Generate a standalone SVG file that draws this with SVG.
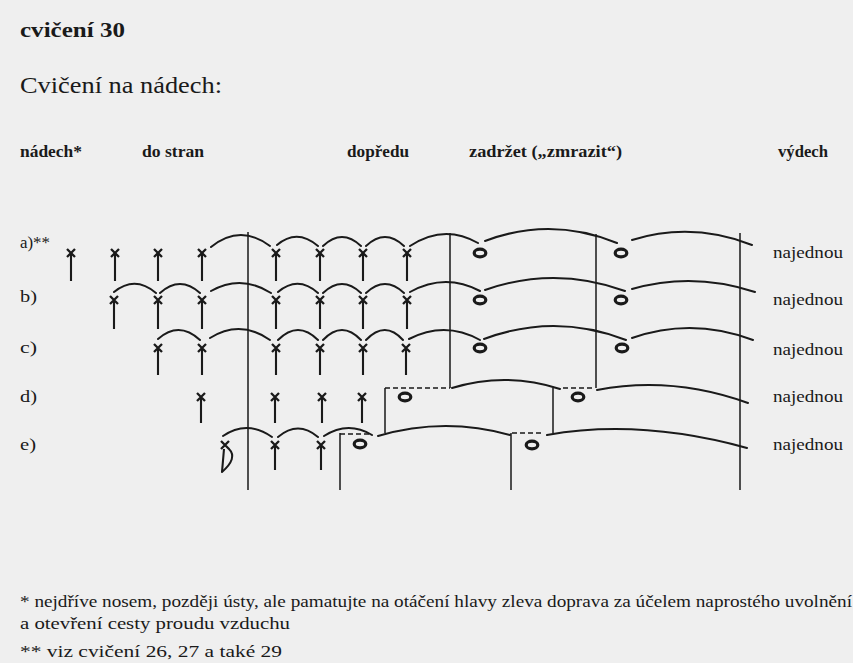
<svg xmlns="http://www.w3.org/2000/svg" xmlns:xlink="http://www.w3.org/1999/xlink" width="853" height="663" viewBox="0 0 853 663">
<style>
.t{font-family:"Liberation Serif","Times New Roman",serif;fill:#1a1a1a}
.b{font-weight:bold}
.ln{stroke:#1a1a1a;stroke-width:2;fill:none;stroke-linecap:round}
.bar{stroke:#1a1a1a;stroke-width:1.5;fill:none}
.dash{stroke:#1a1a1a;stroke-width:1.7;fill:none;stroke-dasharray:5 3}
.stem{stroke:#1a1a1a;stroke-width:2.1;fill:none}
.xm{stroke:#1a1a1a;stroke-width:2.3;fill:none}
.o{stroke:#1a1a1a;stroke-width:3.2;fill:none}
</style>
<defs>
<path id="x" class="xm" d="M-4,-4L4,4M4,-4L-4,4"/>
<ellipse id="o" class="o" rx="5.8" ry="3.8"/>
</defs>
<rect width="853" height="663" fill="#efefef"/>

<g id="titles">
<text class="t b" x="20" y="37" font-size="22" textLength="105" lengthAdjust="spacingAndGlyphs">cvičení 30</text>
<text class="t" x="20" y="93" font-size="23" textLength="202" lengthAdjust="spacingAndGlyphs">Cvičení na nádech:</text>
</g>

<g id="header" font-size="16.5">
<text class="t b" x="20" y="157" textLength="62" lengthAdjust="spacingAndGlyphs">nádech*</text>
<text class="t b" x="142" y="157" textLength="62" lengthAdjust="spacingAndGlyphs">do stran</text>
<text class="t b" x="347" y="157" textLength="62" lengthAdjust="spacingAndGlyphs">dopředu</text>
<text class="t b" x="469" y="157" textLength="153" lengthAdjust="spacingAndGlyphs">zadržet („zmrazit“)</text>
<text class="t b" x="778" y="157" textLength="50" lengthAdjust="spacingAndGlyphs">výdech</text>
</g>

<g id="row-labels" font-size="17">
<text class="t" x="20" y="248" textLength="30" lengthAdjust="spacingAndGlyphs">a)**</text>
<text class="t" x="20" y="302" textLength="17" lengthAdjust="spacingAndGlyphs">b)</text>
<text class="t" x="20" y="353" textLength="17" lengthAdjust="spacingAndGlyphs">c)</text>
<text class="t" x="20" y="402" textLength="17" lengthAdjust="spacingAndGlyphs">d)</text>
<text class="t" x="20" y="450" textLength="16" lengthAdjust="spacingAndGlyphs">e)</text>
</g>

<g id="najednou" font-size="17">
<text class="t" x="773" y="258" textLength="70" lengthAdjust="spacingAndGlyphs">najednou</text>
<text class="t" x="773" y="305" textLength="70" lengthAdjust="spacingAndGlyphs">najednou</text>
<text class="t" x="773" y="355" textLength="70" lengthAdjust="spacingAndGlyphs">najednou</text>
<text class="t" x="773" y="402" textLength="70" lengthAdjust="spacingAndGlyphs">najednou</text>
<text class="t" x="773" y="450" textLength="70" lengthAdjust="spacingAndGlyphs">najednou</text>
</g>

<g id="bars">
<path class="bar" d="M248,232V490M450,233V388M596,234V388M740,233V490M385,388V433M553,388V433M340,433V490M511,433V490"/>
<path class="dash" d="M385,388H450M563,388H595M340,434H372M512,433H542"/>
</g>

<g id="row-a">
<path class="stem" d="M71,253V281M115,253V281M158,253V281M202,253V281M276,253V281M320,253V281M363,253V281M407,253V281"/>
<use xlink:href="#x" x="71" y="253"/><use xlink:href="#x" x="115" y="253"/><use xlink:href="#x" x="158" y="253"/><use xlink:href="#x" x="202" y="253"/>
<use xlink:href="#x" x="276" y="253"/><use xlink:href="#x" x="320" y="253"/><use xlink:href="#x" x="363" y="253"/><use xlink:href="#x" x="407" y="253"/>
<use xlink:href="#o" x="480" y="253"/><use xlink:href="#o" x="621" y="253"/>
<path class="ln" d="M211,247Q240,223.5 270,246M277,245Q297,228 318,246M323,246Q342,228 361,246M366,246Q385,228 404,246M410,246Q444,223.5 478,243M485,241Q551,216 617,243M632,240Q692,221.5 752,245"/>
</g>

<g id="row-b">
<path class="stem" d="M114,300V329M158,300V329M202,300V329M276,300V329M320,300V329M363,300V329M407,300V329"/>
<use xlink:href="#x" x="114" y="300"/><use xlink:href="#x" x="158" y="300"/><use xlink:href="#x" x="202" y="300"/>
<use xlink:href="#x" x="276" y="300"/><use xlink:href="#x" x="320" y="300"/><use xlink:href="#x" x="363" y="300"/><use xlink:href="#x" x="407" y="300"/>
<use xlink:href="#o" x="480" y="300"/><use xlink:href="#o" x="621" y="300"/>
<path class="ln" d="M114,292Q135,275 156,293M160,293Q180,275 200,293M211,291Q241,274 271,293M278,292Q298,275 318,293M323,293Q342,275 361,293M366,293Q385,275 404,293M410,292Q445,272.5 480,291M485,290Q555,265.5 625,291M632,289Q693,271.5 755,292"/>
</g>

<g id="row-c">
<path class="stem" d="M158,348V375M202,348V375M276,348V375M320,348V375M363,348V375M406,348V375"/>
<use xlink:href="#x" x="158" y="348"/><use xlink:href="#x" x="202" y="348"/>
<use xlink:href="#x" x="276" y="348"/><use xlink:href="#x" x="320" y="348"/><use xlink:href="#x" x="363" y="348"/><use xlink:href="#x" x="406" y="348"/>
<use xlink:href="#o" x="480" y="348"/><use xlink:href="#o" x="622" y="348"/>
<path class="ln" d="M158,339Q179,320.5 200,340M210,338Q240,319 270,340M278,340Q298,320 318,340M323,340Q342,320 361,340M366,340Q385,320 403,340M409,339Q445,320.5 480,340M484,339Q555,312.5 626,340M632,338Q692,317 753,340"/>
</g>

<g id="row-d">
<path class="stem" d="M201,397V423M275,397V423M322,397V423M362,397V423"/>
<use xlink:href="#x" x="201" y="397"/><use xlink:href="#x" x="275" y="397"/><use xlink:href="#x" x="322" y="397"/><use xlink:href="#x" x="362" y="397"/>
<use xlink:href="#o" x="405" y="397"/><use xlink:href="#o" x="578" y="397"/>
<path class="ln" d="M452,388Q506,371.5 560,389M597,390Q672,375.5 748,403"/>
</g>

<g id="row-e">
<path class="stem" d="M275,445V470M321,445V470M224,449L222,472"/>
<path class="ln" d="M229,449Q238,458 222,472"/>
<use xlink:href="#x" x="225" y="445"/><use xlink:href="#x" x="275" y="445"/><use xlink:href="#x" x="321" y="445"/>
<use xlink:href="#o" x="360" y="444"/><use xlink:href="#o" x="532" y="445"/>
<path class="ln" d="M223,436Q247,419.5 272,437M278,437Q298,420 318,437M324,436Q348,420.5 372,435M378,436Q444,416.5 510,435M547,435Q640,418.5 747,448"/>
</g>

<g id="footnotes" font-size="16">
<text class="t" x="20" y="607" textLength="832" lengthAdjust="spacingAndGlyphs">* nejdříve nosem, později ústy, ale pamatujte na otáčení hlavy zleva doprava za účelem naprostého uvolnění</text>
<text class="t" x="20" y="629" textLength="270" lengthAdjust="spacingAndGlyphs">a otevření cesty proudu vzduchu</text>
<text class="t" x="20" y="657" textLength="262" lengthAdjust="spacingAndGlyphs">** viz cvičení 26, 27 a také 29</text>
</g>
</svg>
